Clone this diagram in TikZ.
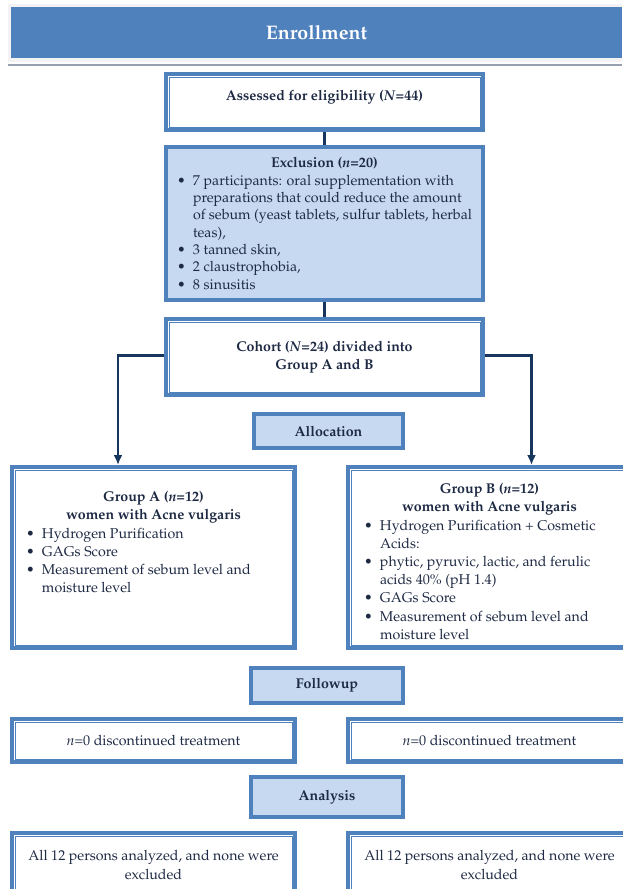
\documentclass[tikz,border=0pt]{standalone}
\usepackage[T1]{fontenc}
\usepackage{mathpazo}
\usetikzlibrary{arrows.meta}
\definecolor{boxblue}{RGB}{79,129,189}
\definecolor{boxfill}{RGB}{198,217,241}
\definecolor{linknavy}{RGB}{23,54,93}
\definecolor{textnavy}{RGB}{30,42,68}
\definecolor{barframe}{RGB}{243,243,245}
\definecolor{barline}{RGB}{150,160,176}
\tikzstyle{every picture}=[x=1pt, y=-1pt, >={Latex[length=10pt,width=9pt]}]
\newcommand{\bodysize}{\fontsize{14.2}{18.2}\selectfont}
\newcommand{\bul}{\makebox[16pt][l]{\textbullet}}
\newcommand{\cont}{\hspace*{16pt}}

\begin{document}
\begin{tikzpicture}[
	font=\bodysize,
	box/.style={
		rectangle,draw=boxblue,line width=4pt,fill=white,
		text=textnavy,inner sep=0pt},
	widebox/.style={box,minimum width=317pt},
	sidebox/.style={box,minimum width=283pt},
	stagebox/.style={box,fill=boxfill,minimum width=152pt,font=\bodysize\bfseries},
	link/.style={draw=linknavy,line width=2.8pt}
	]
	\useasboundingbox (0,0) rectangle (622,889);
	% ENROLLMENT
	\fill[barframe] (8,4) rectangle (622,62);
	\node [rectangle,fill=boxblue,minimum width=611pt,minimum height=51pt,inner sep=0pt,
		text=white,font=\fontsize{19.6}{22}\selectfont\bfseries] (enroll) at (316.5,32.5) {Enrollment};
	\draw[barline,line width=2pt] (8,64.5) -- (622,64.5);
	\node [widebox,minimum height=56pt,font=\bodysize\bfseries,text height=10pt,text depth=13pt]
		(assess) at (324.5,102) {Assessed for eligibility (\textit{N}=44)};
	\node [widebox,fill=boxfill,minimum height=153pt] (excl) at (324.5,223.5) {%
		\begin{minipage}{295pt}\fontsize{14.2}{17.3}\selectfont
		\centering\textbf{Exclusion (\textit{n}=20)}\par\raggedright
		\bul 7 participants: oral supplementation with\\
		\cont preparations that could reduce the amount\\
		\cont of sebum (yeast tablets, sulfur tablets, herbal\\
		\cont teas),\\
		\bul 3 tanned skin,\\
		\bul 2 claustrophobia,\\
		\bul 8 sinusitis
		\end{minipage}};
	\node [widebox,minimum height=76pt,align=center,font=\bodysize\bfseries] (cohort) at (324.5,357)
		{Cohort (\textit{N}=24) divided into\\Group A and B};
	\draw [link] (assess) -- (excl);
	\draw [link] (excl) -- (cohort);
	% ALLOCATION
	\node [stagebox,minimum width=149pt,minimum height=34pt] (alloc) at (328.5,431) {Allocation};
	\node [sidebox,minimum height=181pt] (grpA) at (153.5,557.5) {%
		\begin{minipage}[c][175pt][t]{255pt}\vspace*{21.5pt}
		\centering\textbf{Group A (\textit{n}=12)\\women with Acne vulgaris}\par\raggedright
		\bul Hydrogen Purification\\
		\bul GAGs Score\\
		\bul Measurement of sebum level and\\
		\cont moisture level
		\end{minipage}};
	\node [sidebox,minimum height=181pt] (grpB) at (489.5,557.5) {%
		\begin{minipage}[c][175pt][t]{251pt}\vspace*{13.5pt}
		\centering\textbf{Group B (\textit{n}=12)\\women with Acne vulgaris}\par\raggedright
		\bul Hydrogen Purification + Cosmetic\\
		\cont Acids:\\
		\bul phytic, pyruvic, lactic, and ferulic\\
		\cont acids 40\% (pH 1.4)\\
		\bul GAGs Score\\
		\bul Measurement of sebum level and\\
		\cont moisture level
		\end{minipage}};
	\draw [link,->] ([yshift=1.5pt]cohort.west) -| ([xshift=-35.5pt]grpA.north);
	\draw [link,->] ([yshift=1.5pt]cohort.east) -| ([xshift=42pt]grpB.north);
	% FOLLOWUP
	\node [stagebox,minimum height=35pt] (follow) at (327,685.5) {Followup};
	\node [sidebox,minimum height=43pt] (discA) at (153.5,740.5) {\textit{n}=0 discontinued treatment};
	\node [sidebox,minimum height=43pt] (discB) at (489.5,740.5) {\textit{n}=0 discontinued treatment};
	% ANALYSIS
	\node [stagebox,minimum height=40pt] (anal) at (327,797) {Analysis};
	\node [sidebox,minimum height=64pt,align=center] (resA) at (153.5,865)
		{All 12 persons analyzed, and none were\\excluded};
	\node [sidebox,minimum height=64pt,align=center] (resB) at (489.5,865)
		{All 12 persons analyzed, and none were\\excluded};
	% inner frame lines
	\foreach \n in {assess,cohort,grpA,grpB,discA,discB,resA,resB}
		\draw [boxblue,line width=0.9pt] ([shift={(5,5)}]\n.north west) rectangle ([shift={(-5,-5)}]\n.south east);
\end{tikzpicture}
\end{document}
